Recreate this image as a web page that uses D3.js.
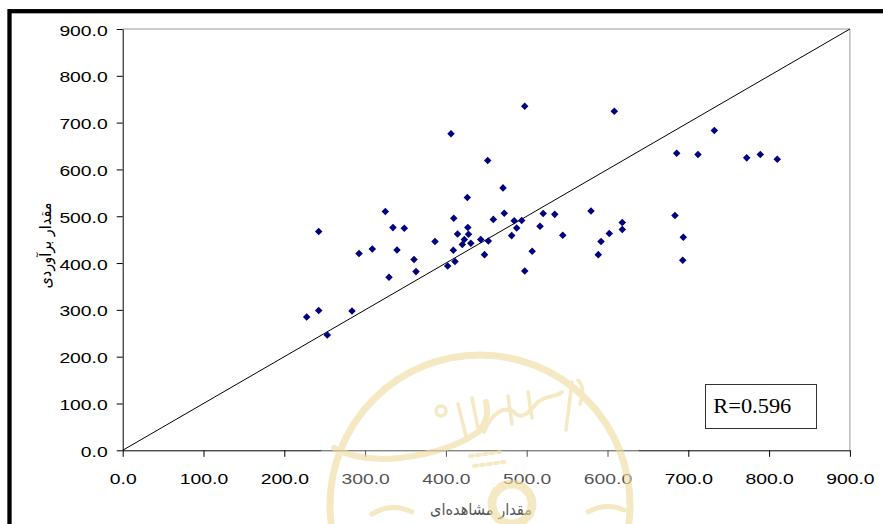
<!DOCTYPE html>
<html>
<head>
<meta charset="utf-8">
<script src="https://cdn.jsdelivr.net/npm/d3@7"></script>
<style>
  html, body { margin: 0; padding: 0; background: #fff; }
  svg { display: block; }
</style>
</head>
<body>
<svg id="chart" width="883" height="524"></svg>
<script>
// Observed (x) and estimated (y) values
const observed = [
  227.7, 242.6, 253.2, 283.8, 242.6, 292.5, 308.9, 325.0, 334.5, 348.5,
  339.5, 329.6, 360.5, 363.0, 386.5, 402.2, 409.2, 411.3, 409.7, 406.3,
  426.5, 414.4, 427.1, 428.0, 422.8, 420.3, 430.8, 443.1, 451.7, 447.8,
  452.5, 458.7, 470.7, 472.2, 484.5, 487.6, 481.4, 493.8, 497.5, 506.8,
  497.6, 516.5, 520.4, 534.7, 544.6, 579.6, 608.4, 588.6, 592.0, 602.2,
  618.3, 618.3, 683.5, 685.6, 693.8, 693.1, 712.0, 732.2, 772.3, 789.1,
  810.1
];
const estimated = [
  284.9, 298.4, 246.4, 297.7, 467.2, 420.2, 430.2, 509.9, 475.7, 474.5,
  428.1, 369.7, 407.4, 381.7, 446.2, 393.9, 427.4, 403.5, 495.8, 676.0,
  539.9, 462.3, 476.2, 461.6, 450.5, 439.4, 442.4, 450.1, 618.9, 418.0,
  447.3, 493.3, 560.6, 506.5, 490.5, 475.1, 458.6, 491.1, 735.2, 425.3,
  383.2, 478.7, 506.1, 504.0, 459.5, 511.4, 724.5, 418.0, 445.8, 462.9,
  486.4, 471.5, 501.4, 634.7, 455.2, 406.1, 631.8, 683.1, 624.7, 631.8,
  621.9
];
const xTicks = [0, 100, 200, 300, 400, 500, 600, 700, 800, 900];
const yTicks = [0, 100, 200, 300, 400, 500, 600, 700, 800, 900];
const xTitle = "مقدار مشاهده‌ای";
const yTitle = "مقدار برآوردی";
const rLabel = "R=0.596";

const svg = d3.select("#chart");
const plot = { left: 122.7, right: 849.9, top: 29, bottom: 450.3 };

const x = d3.scaleLinear().domain([0, 900]).range([plot.left, plot.right]);
const y = d3.scaleLinear().domain([0, 900]).range([plot.bottom, plot.top]);

// Outer frame (thick black edge)
svg.append("rect")
  .attr("x", 9.5).attr("y", 11.2)
  .attr("width", 1000).attr("height", 1000)
  .attr("fill", "none").attr("stroke", "#000").attr("stroke-width", 4.3);

// Plot frame: grey top and right edges
svg.append("path")
  .attr("d", `M${plot.left},${plot.top}H${plot.right}V${plot.bottom}`)
  .attr("fill", "none").attr("stroke", "#9a9a9a").attr("stroke-width", 1);

// 1:1 reference line
svg.append("line")
  .attr("x1", x(0)).attr("y1", y(0))
  .attr("x2", x(900)).attr("y2", y(900))
  .attr("stroke", "#000").attr("stroke-width", 1);

const stretch = 1.38;
const fmt = d3.format(".1f");

// X axis
const gx = svg.append("g")
  .attr("transform", `translate(0,${plot.bottom})`)
  .call(d3.axisBottom(x).tickValues(xTicks).tickFormat(fmt).tickSize(6.5).tickSizeOuter(0));
gx.select(".domain").attr("stroke", "#000");
gx.selectAll(".tick line").attr("stroke", "#000");
gx.selectAll(".tick text")
  .attr("y", 34).attr("dy", 0)
  .attr("transform", `scale(${stretch},1)`)
  .style("font-family", "'Liberation Sans', Arial, sans-serif")
  .style("font-size", "14px").attr("fill", "#000");

// Y axis
const gy = svg.append("g")
  .attr("transform", `translate(${plot.left},0)`)
  .call(d3.axisLeft(y).tickValues(yTicks).tickFormat(fmt).tickSize(6).tickSizeOuter(0));
gy.select(".domain").attr("stroke", "#000");
gy.selectAll(".tick line").attr("stroke", "#000");
gy.selectAll(".tick text")
  .attr("x", -15 / stretch).attr("dy", 0).attr("y", 6)
  .attr("transform", `scale(${stretch},1)`)
  .style("font-family", "'Liberation Sans', Arial, sans-serif")
  .style("font-size", "14px").attr("fill", "#000");

// Data points (navy diamonds)
const diamond = d3.symbol().type(d3.symbolDiamond2).size(36);
svg.append("g").selectAll("path")
  .data(observed.map((v, i) => [v, estimated[i]]))
  .join("path")
  .attr("d", diamond)
  .attr("transform", d => `translate(${x(d[0])},${y(d[1])})`)
  .attr("fill", "#000080");

// Axis titles
svg.append("text")
  .attr("x", 481).attr("y", 515)
  .attr("text-anchor", "middle")
  .attr("direction", "rtl")
  .attr("textLength", 102).attr("lengthAdjust", "spacingAndGlyphs")
  .style("font-family", "'DejaVu Sans', sans-serif")
  .style("font-size", "16px").attr("fill", "#000")
  .text(xTitle);

svg.append("text")
  .attr("transform", "translate(51,245.5) rotate(-90)")
  .attr("text-anchor", "middle")
  .attr("direction", "rtl")
  .attr("textLength", 86).attr("lengthAdjust", "spacingAndGlyphs")
  .style("font-family", "'DejaVu Sans', sans-serif")
  .style("font-size", "16px").attr("fill", "#000")
  .text(yTitle);

// Correlation box
svg.append("rect")
  .attr("x", 705.5).attr("y", 384.5)
  .attr("width", 111).attr("height", 44)
  .attr("fill", "#fff").attr("stroke", "#333").attr("stroke-width", 1);
svg.append("text")
  .attr("x", 713.3).attr("y", 413.3)
  .attr("textLength", 78).attr("lengthAdjust", "spacingAndGlyphs")
  .style("font-family", "'Liberation Serif', 'Times New Roman', serif")
  .style("font-size", "20px").attr("fill", "#000")
  .text(rLabel);

// Pale emblem stamped over the lower middle of the chart
const wm = svg.append("g").attr("pointer-events", "none");
wm.append("circle")
  .attr("cx", 480).attr("cy", 505).attr("r", 168)
  .attr("fill", "#fff").attr("opacity", 0.32);
const gold = "#efdb9c";
const g2 = wm.append("g").attr("fill", "none").attr("stroke", gold)
  .attr("stroke-linecap", "round").attr("stroke-linejoin", "round").attr("opacity", 0.6);
// outer ring
g2.append("circle").attr("cx", 480).attr("cy", 505).attr("r", 150).attr("stroke-width", 7);
// calligraphic sweep
g2.append("path").attr("stroke-width", 6)
  .attr("d", "M334,448 Q360,462 400,458 Q450,452 478,432 Q490,420 486,402");
g2.append("path").attr("stroke-width", 3.5)
  .attr("d", "M458,404 L466,436 M472,398 L478,428");
g2.append("path").attr("stroke-width", 4)
  .attr("d", "M484,432 C492,412 506,404 516,414 C524,420 530,410 538,402 C548,394 556,398 562,392");
g2.append("path").attr("stroke-width", 3.5)
  .attr("d", "M508,396 L512,424 M528,392 L532,418 M572,382 L566,430 M578,380 Q586,388 580,404");
g2.append("circle").attr("cx", 441).attr("cy", 411).attr("r", 5).attr("stroke-width", 3.5);
// dotted row beneath the script
g2.append("path").attr("stroke-width", 4).attr("stroke-dasharray", "3,4")
  .attr("d", "M470,456 L500,452 M474,466 L504,462");
// gear
g2.append("circle").attr("cx", 512).attr("cy", 504).attr("r", 20)
  .attr("stroke-width", 9).attr("stroke-dasharray", "5,4");
g2.append("path").attr("stroke-width", 5)
  .attr("d", "M372,514 Q392,502 412,512 M588,512 Q606,502 624,510");
</script>
</body>
</html>
